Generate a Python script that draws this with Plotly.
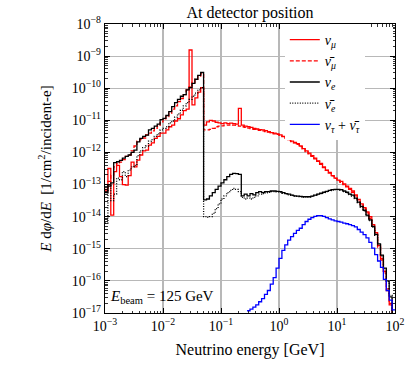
import numpy as np
import plotly.graph_objects as go

# log10(E / GeV) bin edges: 100 log-spaced bins between 1e-3 and 1e2 GeV
log_e_min, log_e_max, n_bins = -3.0, 2.0, 100
bin_edges = [10 ** (log_e_min + (log_e_max - log_e_min) * k / n_bins) for k in range(n_bins + 1)]

# axis decades and tick labels
x_decades = [-3, -2, -1, 0, 1, 2]
y_decades = [-17, -16, -15, -14, -13, -12, -11, -10, -9, -8]
minor_mults = [2, 3, 4, 5, 6, 7, 8, 9]

# log10 of E dphi/dE  [1/cm^2/incident-e] per bin
nu_mu_log = [
    -13.15, -12.5, -13.95, -12.6, -12.4, -12.75, -13.0, -13.02, -12.72, -12.3,
    -12.45, -12.24, -12.08, -11.95, -11.93, -11.77, -11.7, -11.56, -11.5, -11.4,
    -11.4, -11.3, -11.2, -11.15, -11.02, -10.95, -10.83, -10.7, -10.65, -8.81,
    -10.52, -10.3, -10.12, -9.98, -11.15, -11.05, -11.0, -11.02, -11.06, -11.08,
    -11.1, -11.08, -11.1, -11.09, -11.1, -11.12, -10.63, -11.15, -11.18, -11.2,
    -11.22, -11.25, -11.27, -11.29, -11.3, -11.32, -11.35, -11.38, -11.4, -11.42,
    -11.45, -11.5, -11.55, -11.6, -11.65, -11.69, -11.73, -11.8, -11.88, -11.95,
    -12.02, -12.1, -12.18, -12.26, -12.34, -12.45, -12.55, -12.62, -12.72, -12.8,
    -12.86, -12.9, -12.98, -13.05, -13.12, -13.2, -13.32, -13.46, -13.6, -13.72,
    -13.85, -14.0, -14.25, -14.5, -14.9, -15.3, -15.7, -16.25, -16.7, -25.0,
]
nu_mu_bar_log = [
    -13.2, -12.9, -12.7, -12.45, -12.35, -12.3, -12.22, -12.12, -12.08, -11.95,
    -11.8, -11.65, -11.6, -11.55, -11.45, -11.4, -11.33, -11.25, -11.18, -11.05,
    -10.95, -10.88, -10.78, -10.65, -10.55, -10.42, -10.32, -10.2, -10.05, -9.95,
    -9.82, -9.72, -9.62, -9.55, -11.3, -11.3, -11.28, -11.25, -11.2, -11.18,
    -11.17, -11.15, -11.15, -11.14, -11.15, -11.16, -11.18, -11.2, -11.22, -11.24,
    -11.26, -11.28, -11.3, -11.31, -11.33, -11.35, -11.37, -11.39, -11.42, -11.44,
    -11.47, -11.51, -11.56, -11.61, -11.66, -11.7, -11.75, -11.82, -11.89, -11.97,
    -12.04, -12.12, -12.2, -12.28, -12.37, -12.47, -12.56, -12.64, -12.73, -12.81,
    -12.88, -12.93, -13.0, -13.07, -13.15, -13.24, -13.35, -13.48, -13.62, -13.75,
    -13.88, -14.05, -14.3, -14.55, -14.95, -15.35, -15.75, -16.3, -16.75, -25.0,
]
nu_e_log = [
    -13.25, -13.05, -12.95, -12.32, -12.29, -12.25, -12.18, -12.12, -12.08, -12.0,
    -11.93, -11.67, -11.56, -11.5, -11.46, -11.3, -11.25, -11.18, -11.12, -10.98,
    -10.94, -10.85, -10.73, -10.57, -10.45, -10.35, -10.25, -10.2, -10.05, -9.98,
    -9.85, -9.72, -9.6, -9.51, -13.48, -13.45, -13.35, -13.25, -13.15, -13.05,
    -12.95, -12.85, -12.75, -12.68, -12.65, -12.66, -12.68, -13.35, -13.3, -13.35,
    -13.28, -13.32, -13.25, -13.22, -13.25, -13.22, -13.22, -13.2, -13.2, -13.21,
    -13.22, -13.25, -13.28, -13.3, -13.33, -13.35, -13.36, -13.37, -13.38, -13.38,
    -13.38, -13.36, -13.33, -13.3, -13.27, -13.24, -13.21, -13.18, -13.16, -13.15,
    -13.15, -13.16, -13.2, -13.24, -13.3, -13.33, -13.42, -13.55, -13.68, -13.8,
    -13.95, -14.1, -14.3, -14.55, -14.85, -15.2, -15.6, -16.0, -16.5, -17.5,
]
nu_e_bar_log = [
    -14.2, -13.0, -13.5, -13.3, -12.8, -12.85, -12.6, -12.75, -12.55, -12.45,
    -12.4, -12.1, -11.95, -11.85, -11.8, -11.65, -11.6, -11.5, -11.42, -11.3,
    -11.25, -11.2, -11.08, -11.02, -10.9, -10.8, -10.68, -10.55, -10.45, -10.35,
    -10.25, -10.15, -10.05, -9.98, -14.0, -14.02, -14.0, -13.9, -13.75, -13.6,
    -13.45, -13.35, -13.25, -13.18, -13.12, -13.15, -13.22, -13.4, -13.45, -13.42,
    -13.45, -13.4, -13.35, -13.3, -13.28, -13.26, -13.24, -13.22, -13.22, -13.23,
    -13.24, -13.27, -13.29, -13.32, -13.34, -13.36, -13.37, -13.38, -13.39, -13.38,
    -13.39, -13.37, -13.34, -13.31, -13.28, -13.25, -13.22, -13.19, -13.17, -13.16,
    -13.16, -13.18, -13.22, -13.26, -13.31, -13.36, -13.44, -13.56, -13.7, -13.82,
    -13.97, -14.12, -14.33, -14.58, -14.88, -15.22, -15.62, -16.02, -16.45, -17.5,
]
nu_tau_log = [None] * 49 + [
    -16.93, -16.88, -16.82, -16.75, -16.65, -16.55, -16.42, -16.3, -16.1, -15.9,
    -15.6, -15.3, -15.05, -14.88, -14.73, -14.62, -14.52, -14.43, -14.36, -14.25,
    -14.15, -14.08, -14.03, -13.99, -13.97, -13.97, -13.99, -14.03, -14.07, -14.1,
    -14.13, -14.15, -14.17, -14.2, -14.22, -14.25, -14.28, -14.32, -14.4, -14.48,
    -14.56, -14.66, -14.8, -14.98, -15.18, -15.38, -15.58, -15.95, -16.3, -16.6,
    -16.9,
]

series = [
    ("<i>ν</i><sub><i>μ</i></sub>", nu_mu_log, "#ff0000", "solid"),
    ("<i>ν\u0304</i><sub><i>μ</i></sub>", nu_mu_bar_log, "#ff0000", "4px,2px"),
    ("<i>ν</i><sub><i>e</i></sub>", nu_e_log, "#000000", "solid"),
    ("<i>ν\u0304</i><sub><i>e</i></sub>", nu_e_bar_log, "#000000", "1px,1.5px"),
    ("<i>ν</i><sub><i>τ</i></sub> + <i>ν\u0304</i><sub><i>τ</i></sub>", nu_tau_log, "#0000ff", "solid"),
]

FONT = "Liberation Serif, Times New Roman, serif"

fig = go.Figure()
for name, vals, color, dash in series:
    y = [None if v is None else 10 ** v for v in vals]
    y = y + [y[-1]]
    fig.add_trace(go.Scatter(
        x=bin_edges, y=y, mode="lines", name=name,
        line=dict(color=color, width=1.3, dash=dash, shape="hv"),
        connectgaps=False, hoverinfo="skip",
    ))


def decade_label(p):
    return "10<sup>%s</sup>" % (("\u2212%d" % -p) if p < 0 else "%d" % p)


def axis_style(decades):
    return dict(
        type="log", showline=True, linecolor="black", linewidth=1.2, mirror="allticks",
        ticks="inside", ticklen=5, tickwidth=1, tickcolor="black",
        showgrid=True, gridcolor="#b8b8b8", gridwidth=1.1,
        tickmode="array", tickvals=[10 ** p for p in decades],
        ticktext=[decade_label(p) for p in decades],
        zeroline=False, automargin=False,
        tickfont=dict(family=FONT, size=14, color="black"),
        minor=dict(ticks="inside", ticklen=2.5, tickwidth=0.8, tickcolor="black", showgrid=False,
                   tickmode="array",
                   tickvals=[m * 10 ** p for p in decades[:-1] for m in minor_mults]),
    )


fig.update_xaxes(range=[-3, 2], title=dict(text="Neutrino energy [GeV]",
                 font=dict(family=FONT, size=16, color="black"), standoff=10),
                 **axis_style(x_decades))
fig.update_yaxes(range=[-17, -8], title=dict(
    text="<i>E</i> d<i>φ</i>/d<i>E</i>  [1/cm<sup>2</sup>/incident-e]",
    font=dict(family=FONT, size=15, color="black"), standoff=16),
    **axis_style(y_decades))

fig.add_annotation(
    x=0.01, y=0.055, xref="paper", yref="paper", xanchor="left", yanchor="middle",
    text="<i>E</i><sub>beam</sub> = 125 GeV", showarrow=False,
    font=dict(family=FONT, size=15, color="black"),
)

fig.update_layout(
    width=407, height=376,
    margin=dict(l=105, r=12, t=24, b=63),
    paper_bgcolor="white", plot_bgcolor="white",
    title=dict(text="At detector position", x=0.5, xref="paper", xanchor="center",
               y=0.966, yanchor="middle",
               font=dict(family=FONT, size=16, color="black")),
    legend=dict(x=0.62, y=1.0, xanchor="left", yanchor="top",
                bgcolor="white", borderwidth=0, tracegroupgap=0,
                font=dict(family=FONT, size=14, color="black")),
    font=dict(family=FONT, color="black"),
    showlegend=True,
    hovermode=False,
)

fig.write_html(
    "out.html",
    config={"displayModeBar": False, "staticPlot": True},
    post_script="document.body.style.margin='0px';document.body.style.overflow='hidden';",
)
